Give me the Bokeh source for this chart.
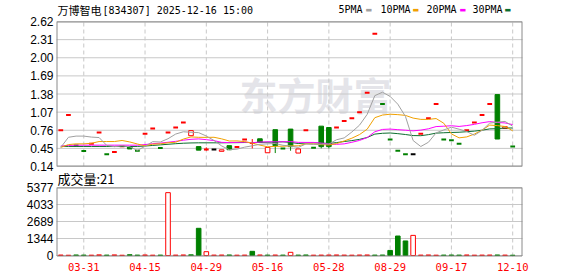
from bokeh.plotting import figure
from bokeh.models import Range1d, Label, ColumnDataSource
from bokeh.core.properties import value
from bokeh.embed import file_html
from bokeh.resources import INLINE

# ---------------- data ----------------
stock_name = "万博智电"
stock_head = "[834307] 2025-12-16  15:00"
vol_title = "成交量:21"
legend_names = ["5PMA", "10PMA", "20PMA", "30PMA"]

date_ticks = [3, 11, 19, 27, 35, 43, 51, 59]
date_labels = ["03-31", "04-15", "04-29", "05-16", "05-28", "08-29", "09-17", "12-10"]

price_ticks = [0.14, 0.45, 0.76, 1.07, 1.38, 1.69, 2.00, 2.31, 2.62]
vol_ticks = [0, 1344, 2689, 4033, 5377]

prev_close = 0.45

closes = [0.76, 1.02, 0.50, 0.405, 0.53, 0.72, 0.35, 0.39, 0.485, 0.44,
          0.41, 0.70, 0.79, 0.457, 0.72, 0.807, 0.894, 0.754, 0.42, 0.43,
          0.43, 0.425, 0.427, 0.475, 0.60, 0.545, 0.555, 0.467, 0.497, 0.45,
          0.48, 0.44, 0.76, 0.46, 0.48, 0.48, 0.807, 0.917, 0.964, 1.069,
          1.40, 2.41, 1.21, 0.60, 0.41, 0.35, 0.35, 0.70, 0.964, 1.21,
          0.60, 0.59, 0.527, 0.76, 0.894, 1.02, 1.21, 0.61, 0.82, 0.48]
opens = [0.76, 1.02, 0.50, 0.405, 0.53, 0.72, 0.35, 0.39, 0.485, 0.48,
         0.41, 0.70, 0.79, 0.457, 0.72, 0.807, 0.894, 0.667, 0.48, 0.43,
         0.43, 0.40, 0.497, 0.475, 0.60, 0.535, 0.614, 0.375, 0.77, 0.45,
         0.78, 0.37, 0.76, 0.46, 0.83, 0.807, 0.807, 0.917, 0.964, 1.069,
         1.40, 2.41, 1.21, 0.60, 0.41, 0.35, 0.35, 0.70, 0.964, 1.21,
         0.60, 0.59, 0.527, 0.76, 0.894, 1.02, 1.21, 1.37, 0.79, 0.48]
highs = [0.76, 1.02, 0.50, 0.405, 0.53, 0.72, 0.35, 0.39, 0.485, 0.48,
         0.41, 0.70, 0.79, 0.457, 0.72, 0.807, 0.894, 0.754, 0.48, 0.467,
         0.43, 0.425, 0.497, 0.475, 0.60, 0.61, 0.614, 0.467, 0.77, 0.45,
         0.78, 0.44, 0.76, 0.46, 0.83, 0.807, 0.807, 0.917, 0.964, 1.069,
         1.40, 2.41, 1.21, 0.60, 0.41, 0.35, 0.35, 0.70, 0.964, 1.21,
         0.60, 0.59, 0.527, 0.76, 0.894, 1.02, 1.21, 1.37, 0.82, 0.48]
lows = [0.76, 1.02, 0.50, 0.405, 0.53, 0.72, 0.35, 0.39, 0.485, 0.44,
        0.41, 0.70, 0.79, 0.457, 0.72, 0.807, 0.894, 0.667, 0.42, 0.41,
        0.43, 0.40, 0.427, 0.475, 0.60, 0.45, 0.555, 0.375, 0.37, 0.45,
        0.41, 0.37, 0.76, 0.46, 0.45, 0.45, 0.807, 0.917, 0.964, 1.069,
        1.40, 2.41, 1.21, 0.60, 0.41, 0.35, 0.35, 0.70, 0.964, 1.21,
        0.60, 0.59, 0.527, 0.76, 0.894, 1.02, 1.21, 0.61, 0.79, 0.48]

ma5 = [0.467, 0.640, 0.660, 0.660, 0.643, 0.635, 0.501, 0.479, 0.495, 0.477,
       0.415, 0.485, 0.565, 0.559, 0.615, 0.695, 0.734, 0.726, 0.719, 0.661,
       0.586, 0.492, 0.426, 0.437, 0.471, 0.494, 0.520, 0.528, 0.533, 0.503,
       0.490, 0.467, 0.525, 0.518, 0.524, 0.524, 0.597, 0.629, 0.730, 0.847,
       1.031, 1.352, 1.411, 1.338, 1.206, 0.996, 0.584, 0.482, 0.555, 0.715,
       0.765, 0.813, 0.778, 0.737, 0.674, 0.758, 0.882, 0.899, 0.911, 0.828]
ma10 = [0.467, 0.515, 0.527, 0.527, 0.537, 0.567, 0.567, 0.567, 0.585, 0.560,
        0.525, 0.493, 0.522, 0.527, 0.546, 0.555, 0.609, 0.646, 0.639, 0.638,
        0.640, 0.613, 0.576, 0.578, 0.566, 0.540, 0.506, 0.477, 0.485, 0.487,
        0.492, 0.494, 0.527, 0.525, 0.513, 0.507, 0.532, 0.577, 0.624, 0.686,
        0.778, 0.975, 1.020, 1.034, 1.027, 1.014, 0.968, 0.946, 0.946, 0.960,
        0.880, 0.698, 0.630, 0.646, 0.695, 0.762, 0.848, 0.839, 0.824, 0.751]
ma20 = [0.490, 0.500, 0.505, 0.505, 0.505, 0.505, 0.505, 0.505, 0.505, 0.505,
        0.505, 0.515, 0.530, 0.540, 0.555, 0.570, 0.590, 0.605, 0.612, 0.599,
        0.583, 0.553, 0.549, 0.553, 0.556, 0.547, 0.558, 0.562, 0.562, 0.563,
        0.566, 0.553, 0.552, 0.552, 0.540, 0.523, 0.519, 0.527, 0.554, 0.586,
        0.635, 0.734, 0.774, 0.780, 0.770, 0.761, 0.750, 0.762, 0.785, 0.823,
        0.829, 0.837, 0.825, 0.840, 0.861, 0.888, 0.908, 0.893, 0.885, 0.856]
ma30 = [0.483, 0.483, 0.483, 0.483, 0.483, 0.483, 0.483, 0.483, 0.483, 0.483,
        0.483, 0.490, 0.500, 0.510, 0.520, 0.530, 0.538, 0.543, 0.545, 0.545,
        0.545, 0.545, 0.547, 0.548, 0.550, 0.550, 0.552, 0.555, 0.558, 0.562,
        0.552, 0.533, 0.542, 0.544, 0.542, 0.534, 0.549, 0.567, 0.583, 0.604,
        0.636, 0.694, 0.708, 0.713, 0.702, 0.687, 0.669, 0.667, 0.685, 0.711,
        0.717, 0.722, 0.726, 0.735, 0.745, 0.761, 0.783, 0.787, 0.798, 0.799]

volumes = [35, 20, 40, 30, 25, 50, 30, 45, 20, 60,
           30, 40, 25, 30, 4970, 30, 40, 50, 2150, 300,
           30, 35, 40, 25, 30, 330, 40, 30, 35, 30,
           250, 30, 40, 25, 30, 35, 40, 30, 25, 35,
           40, 30, 35, 400, 1540, 1150, 1590, 30, 40, 25,
           30, 35, 30, 40, 25, 30, 35, 40, 30, 21]
vol_dir = [1, 1, -1, -1, 1, 1, -1, 1, 1, -1,
           -1, 1, 1, -1, 1, 1, 1, -1, -1, 1,
           1, 1, -1, 1, 1, -1, 1, -1, 1, -1,
           1, -1, -1, 1, 1, 1, 1, 1, 1, 1,
           1, -1, -1, -1, -1, -1, 1, 1, 1, 1,
           -1, -1, -1, 1, 1, 1, 1, -1, 1, -1]

# ---------------- style / layout constants (pixels of the 578x276 canvas) ----------------
RED = "#ff0000"
GREEN = "#008000"
BLACK = "#000000"
MA_COLORS = ["#a0a0a0", "#f0a000", "#ff00ff", "#0b6e2e"]
GRID = "#c8c8c8"
BORDER = "#8a8a8a"
W, H = 578, 276
BL, BR = 56, 522          # box left / right
MT, MB = 21, 166          # price box top / bottom
VT, VB = 187, 256         # volume box top / bottom
X_AT_BL, X_AT_BR = -0.56, 60.28
X_PER_PX = (X_AT_BR - X_AT_BL) / (BR - BL)
P_LO, P_HI = price_ticks[0], price_ticks[-1]
P_PER_PX = (P_HI - P_LO) / (MB - MT)
V_LO = -80
V_HI = vol_ticks[-1]
V_PER_PX = (V_HI - V_LO) / (VB - VT)

XR = (X_AT_BL - BL * X_PER_PX, X_AT_BR + (W - BR) * X_PER_PX)
YR = (P_LO - (H - MB) * P_PER_PX, P_HI + MT * P_PER_PX)
VR = (V_LO - (H - VB) * V_PER_PX, V_HI + VT * V_PER_PX)


def px_x(px):
    return X_AT_BL + (px - BL) * X_PER_PX


def px_y(py):
    return P_HI - (py - MT) * P_PER_PX


def px_vy(py):
    return V_HI - (py - VT) * V_PER_PX


n = len(closes)
up = dict(x=[], top=[], bottom=[])
down = dict(x=[], top=[], bottom=[])
flat = dict(x0=[], x1=[], y=[], color=[])
wick = dict(x=[], y0=[], y1=[], color=[])
for i in range(n):
    o, h, l, c = opens[i], highs[i], lows[i], closes[i]
    prev = closes[i - 1] if i > 0 else prev_close
    if c > o:
        col = RED
        up["x"].append(i); up["top"].append(c); up["bottom"].append(o)
    elif c < o:
        col = GREEN
        down["x"].append(i); down["top"].append(o); down["bottom"].append(c)
    else:
        col = RED if c > prev else (GREEN if c < prev else BLACK)
        flat["x0"].append(i - 0.31); flat["x1"].append(i + 0.31)
        flat["y"].append(c); flat["color"].append(col)
    top, bot = max(o, c), min(o, c)
    if h > top:
        wick["x"].append(i); wick["y0"].append(top); wick["y1"].append(h); wick["color"].append(col)
    if l < bot:
        wick["x"].append(i); wick["y0"].append(l); wick["y1"].append(bot); wick["color"].append(col)

# ---------------- one canvas-wide figure ----------------
p = figure(width=W, height=H, x_range=Range1d(*XR), y_range=Range1d(*YR),
           output_backend="svg", toolbar_location=None,
           x_axis_location=None, y_axis_location=None,
           min_border=0, min_border_left=0, min_border_right=0,
           min_border_top=0, min_border_bottom=0)
p.extra_y_ranges = {"vol": Range1d(*VR)}
p.outline_line_color = None
p.background_fill_color = "white"
p.border_fill_color = "white"
p.xgrid.visible = False
p.ygrid.visible = False

xl, xr = px_x(BL), px_x(BR)

# horizontal grid lines at the tick values
p.segment(x0=[xl] * len(price_ticks), x1=[xr] * len(price_ticks), y0=price_ticks, y1=price_ticks,
          line_color=GRID, line_width=1)
p.segment(x0=[xl] * len(vol_ticks), x1=[xr] * len(vol_ticks), y0=vol_ticks, y1=vol_ticks,
          line_color=GRID, line_width=1, y_range_name="vol")
# vertical dashed date grid
nd = len(date_ticks)
p.segment(x0=date_ticks, x1=date_ticks, y0=[P_LO] * nd, y1=[P_HI] * nd,
          line_color=GRID, line_width=1, line_dash="4 3")
p.segment(x0=date_ticks, x1=date_ticks, y0=[V_LO] * nd, y1=[V_HI] * nd,
          line_color=GRID, line_width=1, line_dash="4 3", y_range_name="vol")

# watermark
p.add_layout(Label(x=px_x(239), y=px_y(93), text="东方财富", text_font="Noto Sans CJK SC",
                   text_font_style="bold", text_font_size="38px", text_color="#e4e4e9",
                   text_baseline="middle", text_align="left", level="underlay"))

# candles
p.segment(x0="x", x1="x", y0="y0", y1="y1", line_color="color", line_width=1,
          source=ColumnDataSource(wick))
p.vbar(x="x", top="top", bottom="bottom", width=0.6, fill_color="white",
       line_color=RED, line_width=1, source=ColumnDataSource(up))
p.vbar(x="x", top="top", bottom="bottom", width=0.6, fill_color=GREEN,
       line_color=GREEN, line_width=1, source=ColumnDataSource(down))
p.segment(x0="x0", x1="x1", y0="y", y1="y", line_color="color", line_width=2,
          source=ColumnDataSource(flat))

# moving averages
xs = list(range(n))
for ma, colr in zip([ma30, ma20, ma10, ma5], MA_COLORS[::-1]):
    p.line(xs, ma, line_color=colr, line_width=1)

# volume bars
vr = dict(x=[i for i in range(n) if vol_dir[i] > 0], top=[volumes[i] for i in range(n) if vol_dir[i] > 0])
vg = dict(x=[i for i in range(n) if vol_dir[i] < 0], top=[volumes[i] for i in range(n) if vol_dir[i] < 0])
p.vbar(x="x", top="top", bottom=0, width=0.6, fill_color="white", line_color=RED,
       line_width=1, source=ColumnDataSource(vr), y_range_name="vol")
p.vbar(x="x", top="top", bottom=0, width=0.6, fill_color=GREEN, line_color=GREEN,
       line_width=1, source=ColumnDataSource(vg), y_range_name="vol")

# box borders
p.quad(left=[px_x(BL + 0.5)] * 2, right=[px_x(BR - 0.5)] * 2,
       top=[px_y(MT + 0.5), px_y(VT + 0.5)], bottom=[px_y(MB - 0.5), px_y(VB - 0.5)],
       fill_color=None, line_color=BORDER, line_width=1)

# tick labels (value axes and date axis)
p.text(x=[xl] * len(price_ticks), y=price_ticks, text=[f"{t:.2f}" for t in price_ticks],
       x_offset=-3, text_align="right", text_baseline="middle",
       text_font=value("Liberation Sans"), text_font_size=value("12px"), text_color="#000000")
p.text(x=[xl] * len(vol_ticks), y=vol_ticks, text=[str(t) for t in vol_ticks],
       x_offset=-3, text_align="right", text_baseline="middle",
       text_font=value("Liberation Sans"), text_font_size=value("12px"), text_color="#000000",
       y_range_name="vol")
p.text(x=date_ticks, y=[px_vy(266.5)] * nd, text=date_labels, text_align="center",
       text_baseline="middle", text_font=value("DejaVu Sans Mono"),
       text_font_size=value("10.5px"), text_color=RED, y_range_name="vol")

# title
p.add_layout(Label(x=px_x(57), y=px_y(9.5), text=stock_name, text_font="Noto Sans CJK SC",
                   text_font_size="11px", text_color="#000000", text_baseline="middle"))
p.add_layout(Label(x=px_x(102), y=px_y(9.5), text=stock_head, text_font="DejaVu Sans Mono",
                   text_font_size="10px", text_color="#000000", text_baseline="middle"))

# legend
leg_text_x = [338, 380, 426, 472]
leg_box_x = [365, 412, 459, 504]
for name, colr, tx, bx in zip(legend_names, MA_COLORS, leg_text_x, leg_box_x):
    p.add_layout(Label(x=px_x(tx), y=px_y(9), text=name, text_font="DejaVu Sans Mono",
                       text_font_size="10px", text_color="#000000", text_baseline="middle"))
    p.add_layout(Label(x=px_x(bx), y=px_y(9), text="\u25ac", text_font="DejaVu Sans",
                       text_font_size="7px", text_color=colr, text_baseline="middle"))

# volume caption
p.add_layout(Label(x=px_x(57), y=px_y(177.5), text=vol_title, text_font="Noto Sans CJK SC",
                   text_font_size="13px", text_color="#000000", text_baseline="middle"))

open("out.html", "w").write(file_html(p, INLINE))
